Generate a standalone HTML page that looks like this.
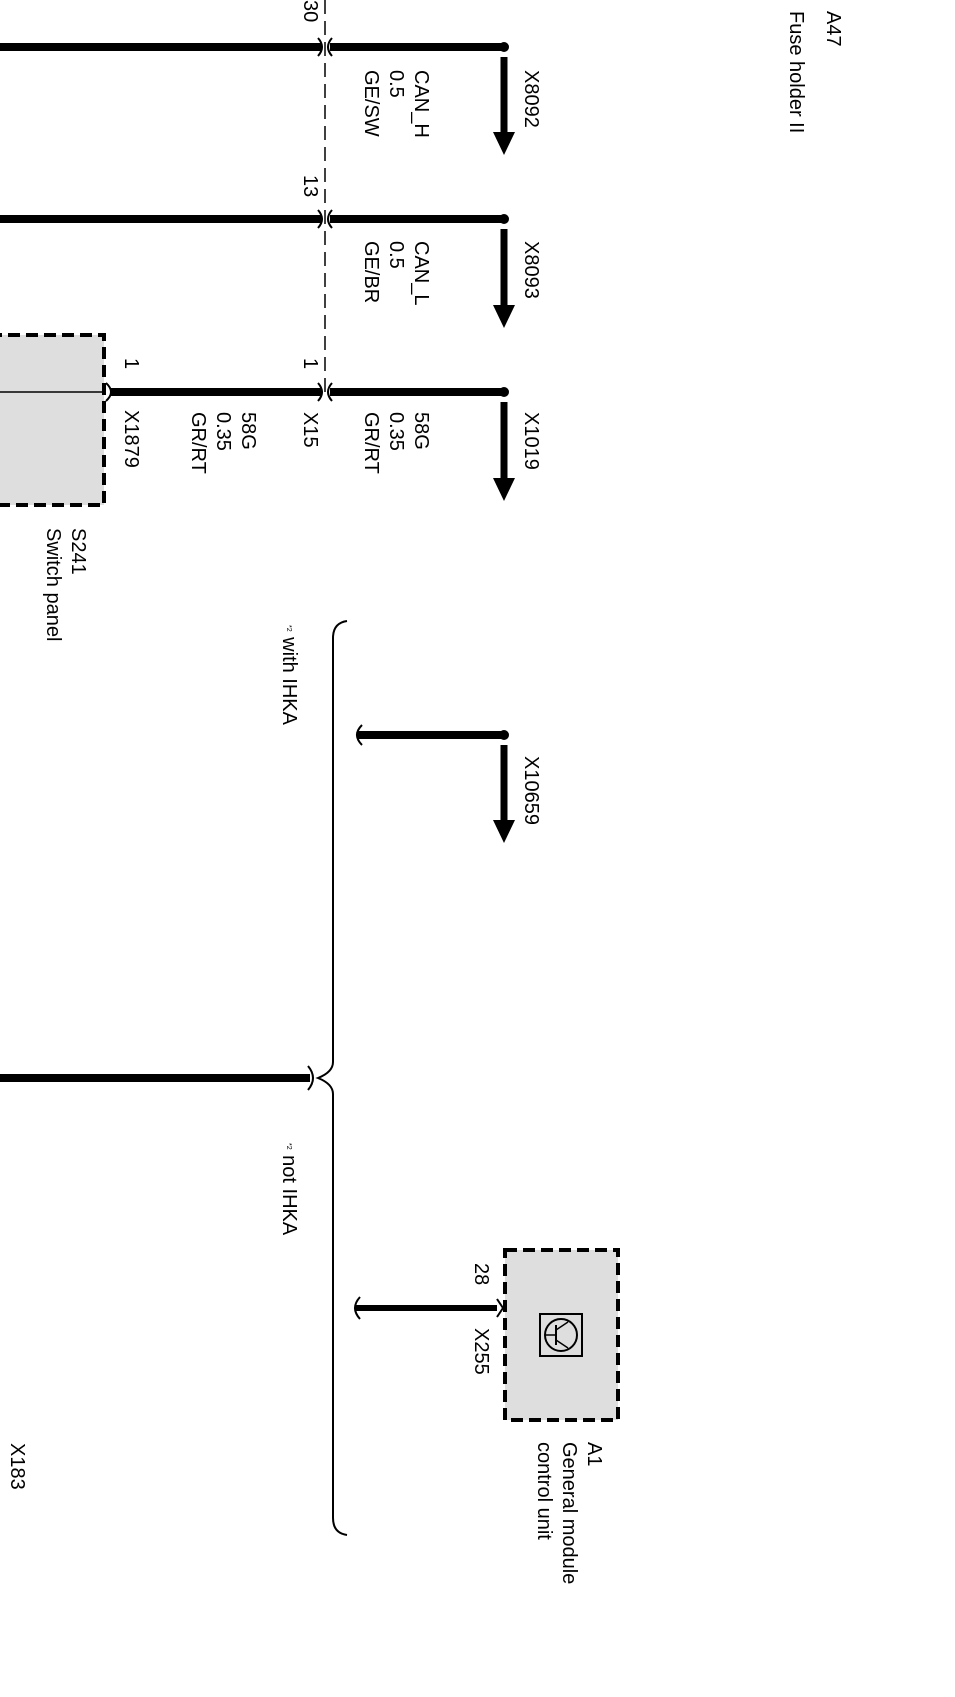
<!DOCTYPE html>
<html><head><meta charset="utf-8"><style>
html,body{margin:0;padding:0;background:#fff}
body{width:955px;height:1697px;position:relative;overflow:hidden;font-family:"Liberation Sans",Arial,sans-serif}
.t{position:absolute;writing-mode:vertical-rl;font-size:20px;line-height:25px;color:#000;white-space:nowrap}
.s{font-size:7px;vertical-align:top}
</style></head><body>
<svg width="955" height="1697" style="position:absolute;left:0;top:0">
<g fill="none" stroke="#000">
 <!-- dashed vertical connector line -->
 <line x1="325" y1="0" x2="325" y2="392" stroke-width="1.5" stroke-dasharray="14,7"/>
 <!-- wires -->
 <line x1="0" y1="47" x2="322" y2="47" stroke-width="8"/>
 <line x1="330" y1="47" x2="504" y2="47" stroke-width="8"/>
 <line x1="0" y1="219" x2="322" y2="219" stroke-width="8"/>
 <line x1="330" y1="219" x2="504" y2="219" stroke-width="8"/>
 <line x1="110" y1="392" x2="322" y2="392" stroke-width="8"/>
 <line x1="330" y1="392" x2="504" y2="392" stroke-width="8"/>
 <!-- hooks -->
 <path d="M318 38 Q326 47 318 56 M332 38 Q324 47 332 56" stroke-width="2"/>
 <path d="M318 210 Q326 219 318 228 M332 210 Q324 219 332 228" stroke-width="2"/>
 <path d="M318 383 Q326 392 318 401 M332 383 Q324 392 332 401" stroke-width="2"/>
 <path d="M106 383 Q116 392 106 401" stroke-width="2"/>
 <!-- arrows stems -->
 <line x1="504" y1="57" x2="504" y2="135" stroke-width="7"/>
 <line x1="504" y1="229" x2="504" y2="308" stroke-width="7"/>
 <line x1="504" y1="402" x2="504" y2="481" stroke-width="7"/>
 <line x1="504" y1="745" x2="504" y2="823" stroke-width="7"/>
 <!-- switch panel box -->
 <rect x="-10" y="335" width="114" height="170" fill="#dedede" stroke-width="4" stroke-dasharray="12,6"/>
 <line x1="0" y1="392" x2="104" y2="392" stroke-width="1.5"/>
 <!-- brace -->
 <path d="M347 621 Q333 623 333 638 L333 1062 Q333 1072 318 1078 Q333 1084 333 1094 L333 1518 Q333 1533 347 1535" stroke-width="2"/>
 <!-- X10659 wire -->
 <line x1="358" y1="735" x2="504" y2="735" stroke-width="8"/>
 <path d="M362 725 Q352 735 362 745" stroke-width="2"/>
 <!-- middle wire -->
 <line x1="0" y1="1078" x2="310" y2="1078" stroke-width="8"/>
 <path d="M308 1066 Q318 1078 308 1090" stroke-width="2"/>
 <!-- A1 box -->
 <rect x="505" y="1250" width="113" height="170" fill="#dedede" stroke-width="4" stroke-dasharray="12,6"/>
 <line x1="356" y1="1308" x2="497" y2="1308" stroke-width="6"/>
 <path d="M360 1297 Q350 1308 360 1319" stroke-width="2"/>
 <path d="M497 1299 L503 1308 L497 1317" stroke-width="2"/>
 <!-- icon -->
 <rect x="540" y="1314" width="42" height="42" stroke-width="2"/>
 <circle cx="561" cy="1335" r="16" stroke-width="2"/>
 <line x1="545" y1="1335" x2="556" y2="1335" stroke-width="1.5"/>
 <line x1="556" y1="1325" x2="556" y2="1345" stroke-width="2"/>
 <line x1="556" y1="1330" x2="568" y2="1322" stroke-width="1.5"/>
 <line x1="556" y1="1340" x2="568" y2="1348" stroke-width="1.5"/>
</g>
<g fill="#000">
 <circle cx="504" cy="47" r="5"/><circle cx="504" cy="219" r="5"/><circle cx="504" cy="392" r="5"/><circle cx="504" cy="735" r="5"/>
 <polygon points="493,132 515,132 504,155"/>
 <polygon points="493,305 515,305 504,328"/>
 <polygon points="493,478 515,478 504,501"/>
 <polygon points="493,820 515,820 504,843"/>
</g>
</svg>
<div class="t" style="left:820px;top:11px">A47</div>
<div class="t" style="left:783px;top:11px">Fuse holder II</div>
<div class="t" style="left:297px;top:0px">30</div>
<div class="t" style="left:297px;top:175px">13</div>
<div class="t" style="left:297px;top:358px">1</div>
<div class="t" style="left:118px;top:358px">1</div>
<div class="t" style="left:518px;top:70px">X8092</div>
<div class="t" style="left:358px;top:70px">CAN_H<br>0.5<br>GE/SW</div>
<div class="t" style="left:518px;top:241px">X8093</div>
<div class="t" style="left:358px;top:241px">CAN_L<br>0.5<br>GE/BR</div>
<div class="t" style="left:518px;top:412px">X1019</div>
<div class="t" style="left:358px;top:412px">58G<br>0.35<br>GR/RT</div>
<div class="t" style="left:297px;top:412px">X15</div>
<div class="t" style="left:185px;top:412px">58G<br>0.35<br>GR/RT</div>
<div class="t" style="left:118px;top:410px">X1879</div>
<div class="t" style="left:40px;top:528px">S241<br>Switch panel</div>
<div class="t" style="left:276px;top:625px"><span class="s">*2</span> with IHKA</div>
<div class="t" style="left:276px;top:1143px"><span class="s">*2</span> not IHKA</div>
<div class="t" style="left:518px;top:756px">X10659</div>
<div class="t" style="left:468px;top:1263px">28</div>
<div class="t" style="left:468px;top:1328px">X255</div>
<div class="t" style="left:531px;top:1442px">A1<br>General module<br>control unit</div>
<div class="t" style="left:4px;top:1443px">X183</div>
</body></html>
